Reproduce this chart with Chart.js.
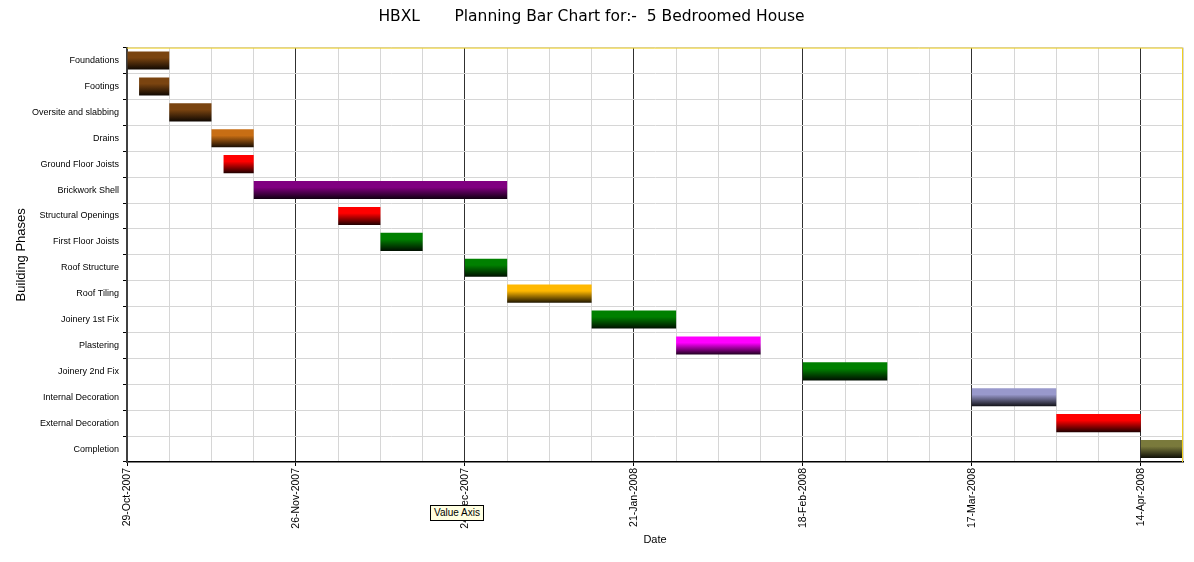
<!DOCTYPE html>
<html>
<head>
<meta charset="utf-8">
<title>HBXL Planning Bar Chart</title>
<script src="https://cdn.jsdelivr.net/npm/chart.js@4/dist/chart.umd.min.js"></script>
<style>
  html, body { margin: 0; padding: 0; background: #fff; }
  #wrap { position: relative; width: 1194px; height: 562px; }
  #tip {
    position: absolute; left: 430px; top: 505px; height: 14px; padding: 0 3px;
    background: #ffffe1; border: 1px solid #000; font: 10px "Liberation Sans", Arial, sans-serif;
    line-height: 14px; color: #000; white-space: nowrap;
  }
</style>
</head>
<body>
<div id="wrap">
  <canvas id="ganttChart"></canvas>
  <div id="tip">Value Axis</div>
</div>
<script>
// phases and their planned dates
const phases = ['Foundations', 'Footings', 'Oversite and slabbing', 'Drains', 'Ground Floor Joists',
  'Brickwork Shell', 'Structural Openings', 'First Floor Joists', 'Roof Structure', 'Roof Tiling',
  'Joinery 1st Fix', 'Plastering', 'Joinery 2nd Fix', 'Internal Decoration', 'External Decoration', 'Completion'];
const startDates = ['2007-10-29', '2007-10-31', '2007-11-05', '2007-11-12', '2007-11-14',
  '2007-11-19', '2007-12-03', '2007-12-10', '2007-12-24', '2007-12-31',
  '2008-01-14', '2008-01-28', '2008-02-18', '2008-03-17', '2008-03-31', '2008-04-14'];
const endDates = ['2007-11-05', '2007-11-05', '2007-11-12', '2007-11-19', '2007-11-19',
  '2007-12-31', '2007-12-10', '2007-12-17', '2007-12-31', '2008-01-14',
  '2008-01-28', '2008-02-11', '2008-03-03', '2008-03-31', '2008-04-14', '2008-04-21'];
const axisStart = '2007-10-29';
const axisEnd = '2008-04-21';

const barColors = ['#7a4410', '#7a4410', '#7a4410', '#c86e14', '#ff0000',
  '#800080', '#ff0000', '#008000', '#008000', '#ffb800',
  '#008000', '#ff00ff', '#008000', '#9999cc', '#ff0000', '#7a7a3c'];

const DAY = 86400000;
const base = new Date(axisStart).getTime();
const dayOf = s => Math.round((new Date(s).getTime() - base) / DAY);
const months = ['Jan','Feb','Mar','Apr','May','Jun','Jul','Aug','Sep','Oct','Nov','Dec'];
function fmtDay(v) {
  const d = new Date(base + v * DAY);
  const dd = String(d.getUTCDate()).padStart(2, '0');
  return dd + '-' + months[d.getUTCMonth()] + '-' + d.getUTCFullYear();
}
function darken(hex, f) {
  const n = parseInt(hex.slice(1), 16);
  const r = Math.round((n >> 16 & 255) * f), g = Math.round((n >> 8 & 255) * f), b = Math.round((n & 255) * f);
  return 'rgb(' + r + ',' + g + ',' + b + ')';
}

const barData = phases.map((p, i) => [dayOf(startDates[i]), dayOf(endDates[i])]);
const BAR_PCT = 0.7;

const frameBorder = {
  id: 'frameBorder',
  afterDraw(chart) {
    const {ctx, chartArea: a} = chart;
    ctx.save();
    ctx.strokeStyle = '#f0d020';
    ctx.lineWidth = 1;
    ctx.beginPath();
    ctx.moveTo(a.left, a.top + 0.5);
    ctx.lineTo(a.right - 0.5, a.top + 0.5);
    ctx.lineTo(a.right - 0.5, a.bottom);
    ctx.stroke();
    ctx.restore();
  }
};

const ctx = document.getElementById('ganttChart');
new Chart(ctx, {
  type: 'bar',
  data: {
    labels: phases,
    datasets: [{
      label: 'Building Phases',
      data: barData,
      backgroundColor: (c) => {
        const chart = c.chart;
        const col = barColors[c.dataIndex] || '#888';
        if (!chart.chartArea || c.type !== 'data') return col;
        const y = chart.scales.y;
        const mid = y.getPixelForValue(c.dataIndex);
        const h = y.height / phases.length * BAR_PCT;
        const g = chart.ctx.createLinearGradient(0, mid - h / 2, 0, mid + h / 2);
        g.addColorStop(0, col);
        g.addColorStop(0.35, col);
        g.addColorStop(1, darken(col, 0.12));
        return g;
      },
      borderWidth: 0,
      borderSkipped: false,
      barPercentage: BAR_PCT,
      categoryPercentage: 1
    }]
  },
  options: {
    indexAxis: 'y',
    responsive: true,
    maintainAspectRatio: false,
    animation: false,
    layout: { padding: { left: 0, right: 11, top: 0, bottom: 0 } },
    plugins: {
      legend: { display: false },
      tooltip: { enabled: false },
      title: {
        display: true,
        text: 'HBXL       Planning Bar Chart for:-  5 Bedroomed House',
        color: '#000',
        font: { family: 'DejaVu Sans', size: 15.5, weight: 'normal' },
        padding: { top: 8, bottom: 21 }
      }
    },
    scales: {
      x: {
        type: 'linear',
        min: 0,
        max: dayOf(axisEnd),
        afterFit: (s) => { s.height = 100; s.paddingLeft = 0; s.paddingRight = 0; },
        ticks: {
          stepSize: 7,
          autoSkip: false,
          minRotation: 90,
          maxRotation: 90,
          padding: 2,
          color: '#000',
          font: { family: 'Liberation Sans', size: 10.5 },
          callback: (v) => (v % 28 === 0 ? fmtDay(v) : '')
        },
        grid: {
          color: (c) => (c.tick && c.tick.value % 28 === 0 ? '#303030' : '#d6d6d6'),
          tickColor: (c) => (c.tick && c.tick.value % 28 === 0 ? '#000' : 'rgba(0,0,0,0)'),
          tickLength: 4
        },
        border: { color: '#000', width: 1.5 },
        title: {
          display: true,
          text: 'Date',
          color: '#000',
          font: { family: 'Liberation Sans', size: 11 },
          padding: { top: 0, bottom: 15 }
        }
      },
      y: {
        afterFit: (s) => { s.width = 127; },
        ticks: {
          padding: 4,
          color: '#000',
          font: { family: 'Liberation Sans', size: 9 }
        },
        grid: {
          offset: true,
          color: '#d6d6d6',
          tickColor: '#000',
          tickLength: 4
        },
        border: { color: '#404040', width: 2 },
        title: {
          display: true,
          text: 'Building Phases',
          color: '#000',
          font: { family: 'Liberation Sans', size: 13 },
          padding: { top: 14, bottom: 0 }
        }
      }
    }
  },
  plugins: [frameBorder]
});
</script>
</body>
</html>
